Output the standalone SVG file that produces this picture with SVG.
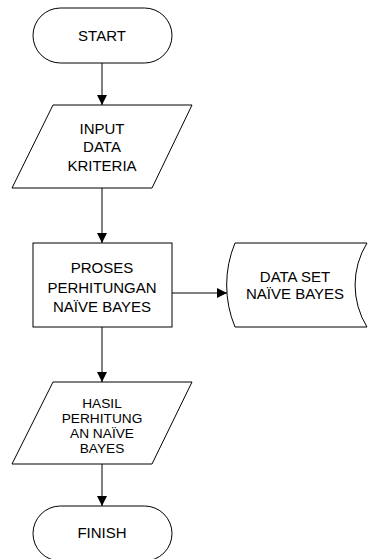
<svg xmlns="http://www.w3.org/2000/svg" width="369" height="559" viewBox="0 0 369 559">
  <defs>
    <marker id="arrow" markerUnits="userSpaceOnUse" markerWidth="10" markerHeight="10" refX="10" refY="5" orient="auto">
      <path d="M0,0 L10,5 L0,10 Z" fill="#000"/>
    </marker>
    <style>
      .shape { fill: #fff; stroke: #000; stroke-width: 1; }
      .edge { fill: none; stroke: #000; stroke-width: 1; marker-end: url(#arrow); }
      .label { font-family: "Liberation Sans", Arial, sans-serif; font-size: 15px; fill: #000; text-anchor: middle; }
      .small { font-size: 13.7px; }
    </style>
  </defs>
  <rect width="369" height="559" fill="#fff"/>

  <g id="connectors">
    <line class="edge" x1="102" y1="63" x2="102" y2="105"/>
    <line class="edge" x1="102" y1="188" x2="102" y2="243"/>
    <line class="edge" x1="172" y1="293" x2="227" y2="293"/>
    <line class="edge" x1="102" y1="327" x2="102" y2="382"/>
    <line class="edge" x1="102" y1="464" x2="102" y2="506"/>
  </g>

  <g id="start">
    <rect class="shape" x="33" y="8" width="139" height="55" rx="27.5" ry="27.5"/>
    <text class="label" x="102" y="40.7">START</text>
  </g>

  <g id="input-data">
    <polygon class="shape" points="53,105 192,105 152,188 12,188"/>
    <text class="label" x="102" y="133.5">INPUT</text>
    <text class="label" x="102" y="152">DATA</text>
    <text class="label" x="102" y="170.5">KRITERIA</text>
  </g>

  <g id="proses">
    <rect class="shape" x="33" y="243" width="139" height="84"/>
    <text class="label" x="102" y="273">PROSES</text>
    <text class="label" x="102" y="292.5">PERHITUNGAN</text>
    <text class="label" x="102" y="312">NAÏVE BAYES</text>
  </g>

  <g id="dataset">
    <path class="shape" d="M235,243 L367,243 A80,80 0 0 0 367,327 L235,327 A110,110 0 0 1 235,243 Z"/>
    <text class="label" x="295" y="282">DATA SET</text>
    <text class="label" x="295" y="299.3">NAÏVE BAYES</text>
  </g>

  <g id="hasil">
    <polygon class="shape" points="53,382 192,382 152,464 12,464"/>
    <text class="label small" x="102" y="407.7">HASIL</text>
    <text class="label small" x="102" y="423">PERHITUNG</text>
    <text class="label small" x="102" y="438.3">AN NAÏVE</text>
    <text class="label small" x="102" y="453.3">BAYES</text>
  </g>

  <g id="finish">
    <rect class="shape" x="33" y="506" width="139" height="55" rx="27.5" ry="27.5"/>
    <text class="label" x="102" y="538">FINISH</text>
  </g>
</svg>
